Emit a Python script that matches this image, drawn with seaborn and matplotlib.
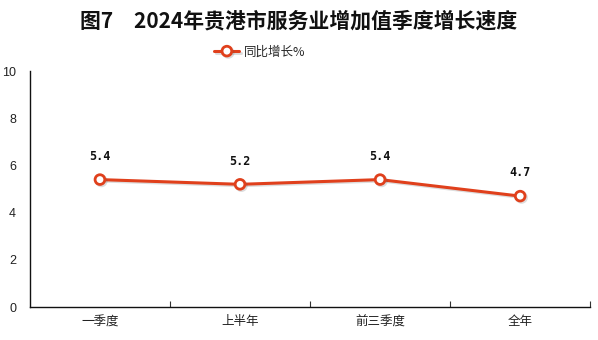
import matplotlib
matplotlib.use("Agg")
import matplotlib.pyplot as plt
import matplotlib.patheffects as pe
from matplotlib.ticker import FixedLocator
import seaborn as sns
import pandas as pd

periods = ["一季度", "上半年", "前三季度", "全年"]
growth = [5.4, 5.2, 5.4, 4.7]
series_name = "同比增长%"
title = "图7　2024年贵港市服务业增加值季度增长速度"

sns.set_theme(style="white")
plt.rcParams["font.family"] = ["Noto Sans CJK SC", "DejaVu Sans"]

df = pd.DataFrame({"pos": range(len(periods)), "period": periods, "value": growth})
red = "#E0401C"

fig = plt.figure(figsize=(5.98, 3.40), dpi=100)
ax = fig.add_axes([0.050, 0.097, 0.937, 0.694])

shadow = [pe.SimpleLineShadow(offset=(1.0, -1.0), alpha=0.2, shadow_color="#555555"), pe.Normal()]
sns.lineplot(data=df, x="pos", y="value", ax=ax, color=red, linewidth=2.2,
             marker="o", markersize=7, markerfacecolor="white",
             markeredgecolor=red, markeredgewidth=2.0, label=series_name,
             path_effects=shadow)

for x, v in zip(df["pos"], df["value"]):
    ax.annotate(f"{v:.1f}", (x, v), xytext=(0, 12), textcoords="offset points",
                ha="center", va="bottom", fontsize=8.5, fontweight="bold",
                family="DejaVu Sans Mono", color="#111111")

ax.set_xlim(-0.5, len(periods) - 0.5)
ax.set_ylim(0, 10)
ax.set_yticks(range(0, 11, 2))
ax.set_xticks(range(len(periods)))
ax.set_xticklabels(periods, fontsize=9)
ax.xaxis.set_minor_locator(FixedLocator([0.5, 1.5, 2.5, 3.5]))
ax.tick_params(axis="x", which="major", length=0, pad=6, colors="#222222")
ax.tick_params(axis="x", which="minor", length=4, direction="in", width=0.8, color="#333333", bottom=True)
ax.tick_params(axis="y", which="major", length=4, direction="in", width=0.8, pad=10,
               labelsize=9, colors="#222222")
for lab in ax.get_yticklabels():
    lab.set_family("Liberation Sans")
ax.set_xlabel("")
ax.set_ylabel("")
for side in ("top", "right"):
    ax.spines[side].set_visible(False)
for side in ("left", "bottom"):
    ax.spines[side].set_color("#111111")
    ax.spines[side].set_linewidth(1.0)

leg = ax.legend(loc="center", frameon=False, fontsize=9, handlelength=2.0, handletextpad=0.4)
leg.set_bbox_to_anchor((0.435, 1 - 52 / 340), transform=fig.transFigure)

fig.text(0.5, 1 - 21 / 340, title, ha="center", va="center", fontsize=15,
         fontweight="bold", color="#111111")

fig.savefig("out.png", dpi=100)
